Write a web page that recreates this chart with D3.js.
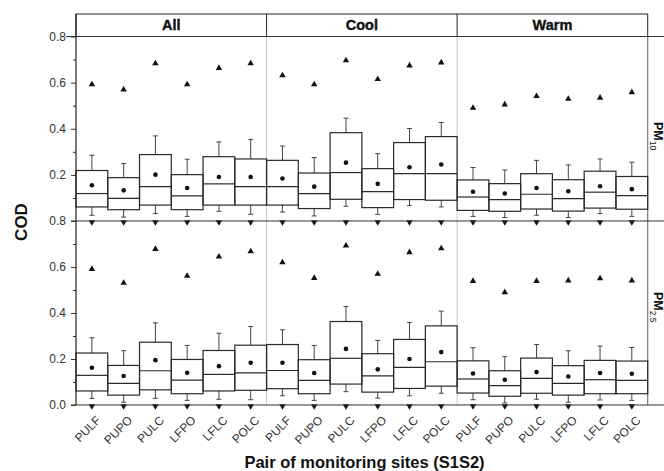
<!DOCTYPE html>
<html>
<head>
<meta charset="utf-8">
<script src="https://cdn.jsdelivr.net/npm/d3@7"></script>
<style>
body { margin: 0; background: #fff; }
svg { display: block; font-family: "Liberation Sans", Arial, sans-serif; }
</style>
</head>
<body>
<div id="chart"></div>
<script>
// categories
var sites = ["PULF", "PUPO", "PULC", "LFPO", "LFLC", "POLC"];
var seasons = ["All", "Cool", "Warm"];
var yTicks = [0.0, 0.2, 0.4, 0.6, 0.8];
var yMinor = [0.1, 0.3, 0.5, 0.7];

// PM10 statistics (All x6, Cool x6, Warm x6)
var pm10Q3   = [0.219,0.188,0.288,0.201,0.279,0.269, 0.263,0.208,0.383,0.227,0.340,0.366, 0.178,0.162,0.205,0.179,0.216,0.193];
var pm10Med  = [0.119,0.098,0.149,0.109,0.161,0.149, 0.149,0.119,0.210,0.127,0.205,0.205, 0.104,0.093,0.116,0.097,0.125,0.110];
var pm10Q1   = [0.061,0.049,0.069,0.049,0.069,0.069, 0.069,0.054,0.094,0.058,0.093,0.090, 0.046,0.042,0.052,0.043,0.056,0.051];
var pm10Hi   = [0.285,0.249,0.369,0.268,0.343,0.354, 0.325,0.275,0.446,0.292,0.401,0.427, 0.232,0.221,0.263,0.243,0.269,0.255];
var pm10Lo   = [0.025,0.017,0.032,0.020,0.042,0.029, 0.039,0.022,0.064,0.029,0.067,0.061, 0.020,0.015,0.025,0.015,0.032,0.020];
var pm10Mean = [0.155,0.133,0.201,0.143,0.191,0.191, 0.184,0.149,0.253,0.161,0.233,0.245, 0.127,0.119,0.143,0.129,0.151,0.138];
var pm10Max  = [0.592,0.570,0.683,0.592,0.663,0.683, 0.631,0.592,0.696,0.615,0.674,0.687, 0.490,0.505,0.541,0.529,0.534,0.558];
var pm10Min  = [0,0,0,0,0,0, 0,0,0,0,0,0, 0,0,0,0,0,0];

// PM2.5 statistics
var pm25Q3   = [0.226,0.172,0.273,0.198,0.237,0.260, 0.263,0.197,0.363,0.223,0.285,0.344, 0.192,0.149,0.204,0.171,0.194,0.191];
var pm25Med  = [0.129,0.094,0.149,0.108,0.133,0.140, 0.150,0.107,0.203,0.127,0.164,0.188, 0.113,0.084,0.116,0.094,0.110,0.107];
var pm25Q1   = [0.061,0.043,0.066,0.049,0.061,0.064, 0.071,0.049,0.091,0.056,0.072,0.082, 0.052,0.038,0.051,0.043,0.049,0.049];
var pm25Hi   = [0.292,0.236,0.357,0.259,0.312,0.341, 0.327,0.259,0.428,0.281,0.359,0.408, 0.249,0.210,0.263,0.236,0.256,0.250];
var pm25Lo   = [0.029,0.012,0.029,0.020,0.025,0.023, 0.040,0.020,0.058,0.030,0.040,0.051, 0.023,0.009,0.025,0.012,0.022,0.020];
var pm25Mean = [0.162,0.126,0.195,0.140,0.169,0.184, 0.184,0.139,0.244,0.155,0.200,0.230, 0.137,0.110,0.143,0.124,0.139,0.136];
var pm25Max  = [0.591,0.531,0.678,0.561,0.645,0.668, 0.620,0.552,0.693,0.570,0.664,0.681, 0.539,0.490,0.539,0.541,0.550,0.541];
var pm25Min  = [0,0,0,0,0,0, 0,0,0,0,0,0, 0,0,0,0,0,0];

var W = 664, H = 471;
var left = 76, right = 647.7, headTop = 14, headBottom = 36.5;

var svg = d3.select("#chart").append("svg")
    .attr("width", W)
    .attr("height", H);

// build rows from arrays
function rows(q1, med, q3, lo, hi, mean, mn, mx) {
  var out = [];
  seasons.forEach(function(s, si) {
    sites.forEach(function(p, pi) {
      var i = si * 6 + pi;
      out.push({season: s, site: p, q1: q1[i], med: med[i], q3: q3[i],
                lo: lo[i], hi: hi[i], mean: mean[i], min: mn[i], max: mx[i]});
    });
  });
  return out;
}

var panels = [
  {label: "PM", sub: "10", top: 36.5, bottom: 221, labelY: 122,
   data: rows(pm10Q1, pm10Med, pm10Q3, pm10Lo, pm10Hi, pm10Mean, pm10Min, pm10Max)},
  {label: "PM", sub: "2.5", top: 221, bottom: 405, labelY: 292,
   data: rows(pm25Q1, pm25Med, pm25Q3, pm25Lo, pm25Hi, pm25Mean, pm25Min, pm25Max)}
];

var xSeason = d3.scaleBand().domain(seasons).range([left, right]);
var xSite = d3.scaleBand().domain(sites).range([0, xSeason.bandwidth()]);
function cx(d) { return xSeason(d.season) + xSite(d.site) + xSite.bandwidth() / 2; }

// header strip
svg.append("rect")
    .attr("x", left).attr("y", headTop)
    .attr("width", right - left).attr("height", headBottom - headTop)
    .attr("fill", "none").attr("stroke", "#222").attr("stroke-width", 1);
seasons.forEach(function(s, i) {
  if (i > 0) {
    svg.append("line")
      .attr("x1", xSeason(s)).attr("x2", xSeason(s))
      .attr("y1", headTop).attr("y2", headBottom)
      .attr("stroke", "#222");
  }
  svg.append("text")
    .attr("x", xSeason(s) + xSeason.bandwidth() / 2)
    .attr("y", 30)
    .attr("text-anchor", "middle")
    .attr("font-size", 14.5).attr("font-weight", "bold")
    .attr("stroke", "#111").attr("stroke-width", 0.4)
    .attr("fill", "#111")
    .text(s);
});

// light separators between seasons in the plot area
seasons.slice(1).forEach(function(s) {
  svg.append("line")
    .attr("x1", xSeason(s)).attr("x2", xSeason(s))
    .attr("y1", headBottom).attr("y2", 405)
    .attr("stroke", "#c8c8c8").attr("stroke-width", 1);
});
// right border
svg.append("line")
  .attr("x1", right).attr("x2", right)
  .attr("y1", headBottom).attr("y2", 405)
  .attr("stroke", "#777").attr("stroke-width", 1.2);

panels.forEach(function(p, pi) {
  var y = d3.scaleLinear().domain([0, 0.8]).range([p.bottom, p.top]);
  var g = svg.append("g");

  // y axis major + minor
  var ticks = pi === 0 ? yTicks.slice(1) : yTicks;
  var ax = g.append("g")
    .attr("transform", "translate(" + left + ",0)")
    .call(d3.axisLeft(y).tickValues(ticks).tickSize(5).tickPadding(5).tickFormat(d3.format(".1f")));
  ax.select(".domain").remove();
  ax.selectAll("text").attr("font-size", 12).attr("fill", "#333")
    .attr("font-family", "Liberation Sans, Arial, sans-serif");
  ax.selectAll("line").attr("stroke", "#333");
  var mi = g.append("g")
    .attr("transform", "translate(" + left + ",0)")
    .call(d3.axisLeft(y).tickValues(yMinor).tickSize(3).tickFormat(""));
  mi.select(".domain").remove();
  mi.selectAll("line").attr("stroke", "#333");

  // strip label on right
  var t = svg.append("text")
    .attr("transform", "translate(654," + p.labelY + ") rotate(90)")
    .attr("font-size", 12.5).attr("font-weight", "bold").attr("fill", "#111");
  t.append("tspan").text(p.label);
  t.append("tspan").attr("font-size", 8.5).attr("font-weight", "normal").attr("dy", 4.5).text(p.sub);

  var bw = xSite.bandwidth();
  var items = g.selectAll(".box").data(p.data).enter().append("g");

  // whiskers
  items.append("line")
    .attr("x1", cx).attr("x2", cx)
    .attr("y1", function(d) { return y(d.q3); })
    .attr("y2", function(d) { return y(d.hi); })
    .attr("stroke", "#444").attr("stroke-width", 1);
  items.append("line")
    .attr("x1", cx).attr("x2", cx)
    .attr("y1", function(d) { return y(d.q1); })
    .attr("y2", function(d) { return y(d.lo); })
    .attr("stroke", "#444").attr("stroke-width", 1);
  items.append("line")
    .attr("x1", function(d) { return cx(d) - 2.5; }).attr("x2", function(d) { return cx(d) + 2.5; })
    .attr("y1", function(d) { return y(d.hi); }).attr("y2", function(d) { return y(d.hi); })
    .attr("stroke", "#444").attr("stroke-width", 1);
  items.append("line")
    .attr("x1", function(d) { return cx(d) - 2.5; }).attr("x2", function(d) { return cx(d) + 2.5; })
    .attr("y1", function(d) { return y(d.lo); }).attr("y2", function(d) { return y(d.lo); })
    .attr("stroke", "#444").attr("stroke-width", 1);

  // boxes
  items.append("rect")
    .attr("x", function(d) { return cx(d) - bw / 2; })
    .attr("width", bw)
    .attr("y", function(d) { return y(d.q3); })
    .attr("height", function(d) { return y(d.q1) - y(d.q3); })
    .attr("fill", "none").attr("stroke", "#2a2a2a").attr("stroke-width", 1.2);
  items.append("line")
    .attr("x1", function(d) { return cx(d) - bw / 2; })
    .attr("x2", function(d) { return cx(d) + bw / 2; })
    .attr("y1", function(d) { return y(d.med); })
    .attr("y2", function(d) { return y(d.med); })
    .attr("stroke", "#2a2a2a").attr("stroke-width", 1.2);

  // mean
  items.append("circle")
    .attr("cx", cx).attr("cy", function(d) { return y(d.mean); })
    .attr("r", 2.3).attr("fill", "#111");

  // max / min markers
  var tri = d3.symbol().type(d3.symbolTriangle).size(18);
  items.append("path")
    .attr("d", tri)
    .attr("transform", function(d) { return "translate(" + cx(d) + "," + y(d.max) + ")"; })
    .attr("fill", "#111");
  items.append("path")
    .attr("d", tri)
    .attr("transform", function(d) { return "translate(" + cx(d) + "," + (y(d.min) + 1) + ") rotate(180)"; })
    .attr("fill", "#111");
});

// horizontal frame lines
[[headBottom, 66], [221, 71], [405, 71]].forEach(function(r) {
  svg.append("line")
    .attr("x1", r[1]).attr("x2", W)
    .attr("y1", r[0]).attr("y2", r[0])
    .attr("stroke", "#333").attr("stroke-width", 1.2);
});
// left axis line
svg.append("line")
  .attr("x1", left).attr("x2", left)
  .attr("y1", headTop).attr("y2", 405)
  .attr("stroke", "#222").attr("stroke-width", 1.2);

// x tick labels
var xlab = svg.append("g");
seasons.forEach(function(s) {
  sites.forEach(function(p) {
    var x = cx({season: s, site: p});
    xlab.append("text")
      .attr("transform", "translate(" + (x + 9.5) + ",421) rotate(-45)")
      .attr("text-anchor", "end")
      .attr("font-size", 12).attr("fill", "#333")
      .text(p);
  });
});

// axis titles
svg.append("text")
  .attr("transform", "translate(26.5,222) rotate(-90)")
  .attr("text-anchor", "middle")
  .attr("font-size", 17).attr("font-weight", "bold").attr("fill", "#111")
  .text("COD");
svg.append("text")
  .attr("x", 364.5).attr("y", 468)
  .attr("text-anchor", "middle")
  .attr("font-size", 16.5).attr("font-weight", "bold").attr("fill", "#111")
  .text("Pair of monitoring sites (S1S2)");
</script>
</body>
</html>
